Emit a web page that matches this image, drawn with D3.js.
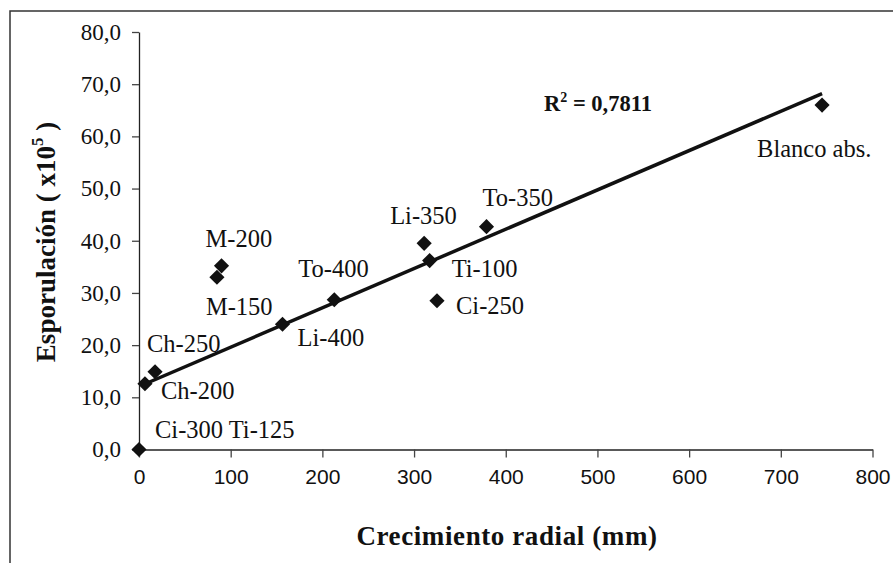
<!DOCTYPE html>
<html>
<head>
<meta charset="utf-8">
<script src="https://cdn.jsdelivr.net/npm/d3@7"></script>
<style>
  body { margin: 0; background: #fff; }
  svg { display: block; }
</style>
</head>
<body>
<svg id="chart" width="893" height="563"></svg>
<script>
// data
var names = ['Ci-300 Ti-125', 'Ch-200', 'Ch-250', 'M-150', 'M-200', 'Li-400', 'To-400',
             'Ti-100', 'Li-350', 'Ci-250', 'To-350', 'Blanco abs.'];
var growth = [0, 6.5, 17.5, 85, 90, 156.5, 213, 317, 311, 325, 379, 745];
var sporulation = [0, 12.6, 14.9, 33.0, 35.2, 24.0, 28.7, 36.2, 39.5, 28.5, 42.7, 66.0];
var trendX = [7, 745];
var trendY = [12.6, 68.2];
var r2Text = '0,7811';
var xTicks = [0, 100, 200, 300, 400, 500, 600, 700, 800];
var yTicks = [0, 10, 20, 30, 40, 50, 60, 70, 80];

// label offsets from each point (px)
var labelOffset = {
  'Ci-300 Ti-125': [16, -12],
  'Ch-200': [16, 15],
  'Ch-250': [-8, -20],
  'M-150': [-11, 38],
  'M-200': [-16, -19],
  'Li-400': [15, 22],
  'To-400': [-36, -23],
  'Ti-100': [22, 16],
  'Li-350': [-34, -19],
  'Ci-250': [19, 13],
  'To-350': [-4, -21],
  'Blanco abs.': [-65, 52]
};

var svg = d3.select('#chart');
var serif = '"Liberation Serif", "Times New Roman", serif';

var x = d3.scaleLinear().domain([0, 800]).range([139, 872.5]);
var y = d3.scaleLinear().domain([0, 80]).range([449.5, 32]);

var locale = d3.formatLocale({ decimal: ',', thousands: '.', grouping: [3], currency: ['', ''] });
var fmt = locale.format('.1f');

// outer frame
svg.append('rect')
  .attr('x', 10).attr('y', 11)
  .attr('width', 900).attr('height', 600)
  .attr('fill', 'none')
  .attr('stroke', '#333')
  .attr('stroke-width', 1.5);

// axes
var xAxis = svg.append('g')
  .attr('transform', 'translate(0,' + y(0) + ')')
  .call(d3.axisBottom(x).tickValues(xTicks).tickSize(8).tickPadding(12).tickSizeOuter(0));
xAxis.selectAll('text')
  .attr('font-family', '"Liberation Sans Narrow", "Arial Narrow", sans-serif')
  .attr('font-size', 21)
  .attr('fill', '#111');

var yAxis = svg.append('g')
  .attr('transform', 'translate(' + x(0) + ',0)')
  .call(d3.axisLeft(y).tickValues(yTicks).tickFormat(fmt).tickSize(7).tickPadding(11).tickSizeOuter(0));
yAxis.selectAll('text')
  .attr('font-family', serif)
  .attr('font-size', 23)
  .attr('fill', '#111');

svg.selectAll('.domain').attr('stroke', '#222').attr('stroke-width', 1.3);
svg.selectAll('.tick line').attr('stroke', '#444').attr('stroke-width', 1.3);

// trend line
svg.append('line')
  .attr('x1', x(trendX[0])).attr('y1', y(trendY[0]))
  .attr('x2', x(trendX[1])).attr('y2', y(trendY[1]))
  .attr('stroke', '#111')
  .attr('stroke-width', 3.5);

// points
var pts = names.map(function (n, i) { return { name: n, gx: growth[i], sy: sporulation[i] }; });

svg.selectAll('.pt')
  .data(pts)
  .enter()
  .append('path')
  .attr('class', 'pt')
  .attr('d', d3.symbol().type(d3.symbolSquare).size(115))
  .attr('transform', function (d) { return 'translate(' + x(d.gx) + ',' + y(d.sy) + ') rotate(45)'; })
  .attr('fill', '#111');

svg.selectAll('.lbl')
  .data(pts)
  .enter()
  .append('text')
  .attr('class', 'lbl')
  .attr('x', function (d) { return x(d.gx) + labelOffset[d.name][0]; })
  .attr('y', function (d) { return y(d.sy) + labelOffset[d.name][1]; })
  .attr('font-family', serif)
  .attr('font-size', 24.5)
  .attr('fill', '#111')
  .text(function (d) { return d.name; });

// R squared
var r2 = svg.append('text')
  .attr('x', 544).attr('y', 111)
  .attr('font-family', serif)
  .attr('font-size', 22.5)
  .attr('font-weight', 'bold')
  .attr('fill', '#111');
r2.append('tspan').text('R');
r2.append('tspan').attr('font-size', 14).attr('dy', -9).text('2');
r2.append('tspan').attr('dy', 9).text(' = ' + r2Text);

// axis titles
svg.append('text')
  .attr('x', 507).attr('y', 545)
  .attr('text-anchor', 'middle')
  .attr('font-family', serif)
  .attr('font-size', 27)
  .attr('font-weight', 'bold')
  .attr('letter-spacing', 0.6)
  .attr('fill', '#111')
  .text('Crecimiento radial (mm)');

var yt = svg.append('text')
  .attr('transform', 'translate(55,242) rotate(-90)')
  .attr('text-anchor', 'middle')
  .attr('font-family', serif)
  .attr('font-size', 27)
  .attr('font-weight', 'bold')
  .attr('fill', '#111');
yt.append('tspan').text('Esporulación ( x10');
yt.append('tspan').attr('font-size', 17).attr('dy', -12).text('5');
yt.append('tspan').attr('dy', 12).text(' )');
</script>
</body>
</html>
